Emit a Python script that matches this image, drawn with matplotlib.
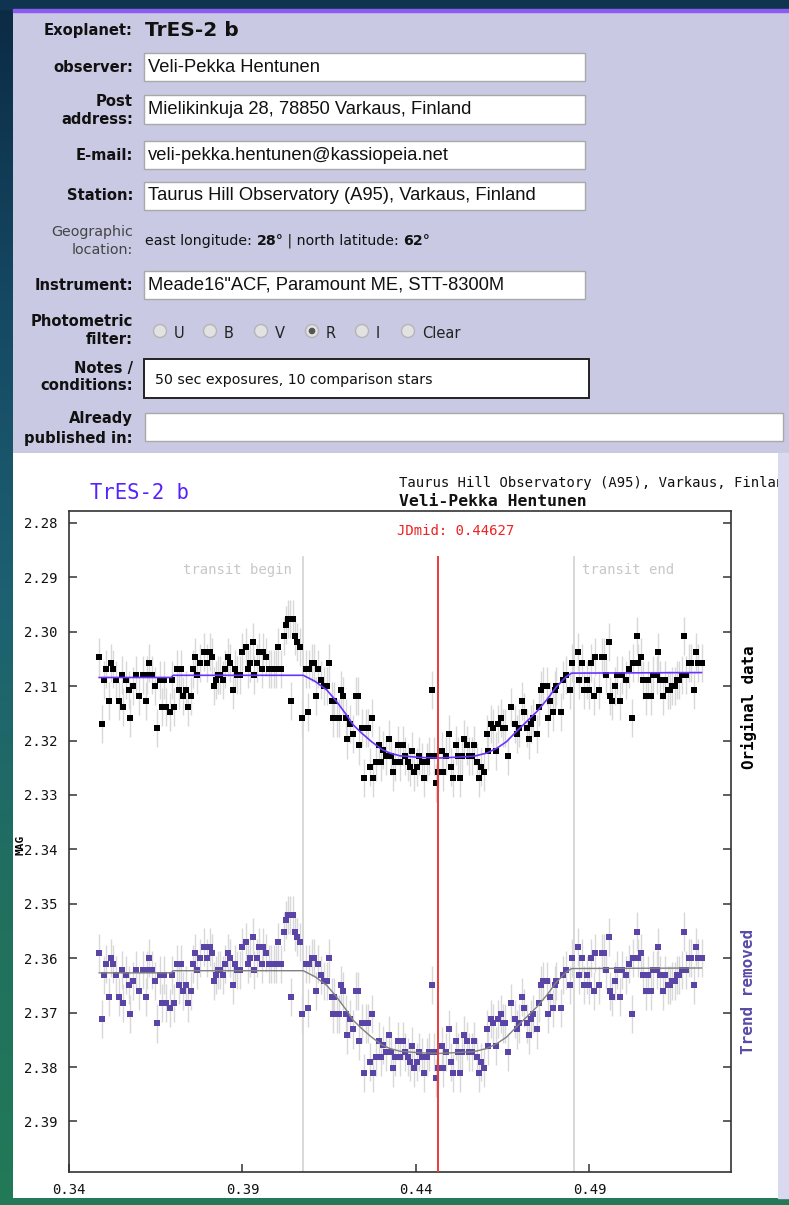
import numpy as np
import matplotlib
matplotlib.use("Agg")
from matplotlib import pyplot as plt
from matplotlib.patches import Rectangle, Circle
from matplotlib.colors import LinearSegmentedColormap

# light curve readings (JD fraction, magnitude), original data
jd = [
    0.3487, 0.3495, 0.3502, 0.3508, 0.3516, 0.3521, 0.3528, 0.3535, 0.3545, 0.3552,
    0.3557, 0.3563, 0.3573, 0.3577, 0.3584, 0.3594, 0.3602, 0.3612, 0.3622, 0.3626,
    0.3632, 0.3640, 0.3647, 0.3654, 0.3661, 0.3668, 0.3675, 0.3681, 0.3691, 0.3696,
    0.3704, 0.3710, 0.3717, 0.3724, 0.3730, 0.3736, 0.3742, 0.3752, 0.3758, 0.3762,
    0.3768, 0.3779, 0.3790, 0.3798, 0.3805, 0.3813, 0.3818, 0.3824, 0.3830, 0.3836,
    0.3844, 0.3850, 0.3858, 0.3864, 0.3872, 0.3878, 0.3883, 0.3892, 0.3900, 0.3910,
    0.3915, 0.3922, 0.3930, 0.3934, 0.3941, 0.3948, 0.3955, 0.3960, 0.3969, 0.3976,
    0.3983, 0.3990, 0.3997, 0.4003, 0.4011, 0.4019, 0.4024, 0.4031, 0.4038, 0.4041,
    0.4047, 0.4051, 0.4058, 0.4066, 0.4072, 0.4083, 0.4089, 0.4093, 0.4100, 0.4107,
    0.4112, 0.4119, 0.4127, 0.4134, 0.4143, 0.4150, 0.4158, 0.4162, 0.4165, 0.4171,
    0.4179, 0.4184, 0.4191, 0.4197, 0.4202, 0.4210, 0.4218, 0.4228, 0.4232, 0.4237,
    0.4244, 0.4251, 0.4257, 0.4263, 0.4267, 0.4272, 0.4277, 0.4285, 0.4294, 0.4299,
    0.4306, 0.4314, 0.4321, 0.4329, 0.4335, 0.4341, 0.4347, 0.4354, 0.4363, 0.4369,
    0.4377, 0.4383, 0.4389, 0.4395, 0.4402, 0.4409, 0.4416, 0.4424, 0.4431, 0.4439,
    0.4447, 0.4453, 0.4458, 0.4464, 0.4476, 0.4477, 0.4486, 0.4495, 0.4500, 0.4508,
    0.4514, 0.4520, 0.4527, 0.4532, 0.4539, 0.4546, 0.4553, 0.4561, 0.4567, 0.4575,
    0.4583, 0.4588, 0.4597, 0.4604, 0.4609, 0.4615, 0.4623, 0.4630, 0.4637, 0.4645,
    0.4652, 0.4658, 0.4665, 0.4675, 0.4685, 0.4692, 0.4698, 0.4705, 0.4711, 0.4719,
    0.4725, 0.4732, 0.4738, 0.4748, 0.4754, 0.4759, 0.4767, 0.4777, 0.4780, 0.4786,
    0.4794, 0.4800, 0.4805, 0.4817, 0.4823, 0.4832, 0.4844, 0.4849, 0.4868, 0.4870,
    0.4878, 0.4884, 0.4892, 0.4899, 0.4905, 0.4914, 0.4916, 0.4927, 0.4935, 0.4942,
    0.4947, 0.4955, 0.4959, 0.4965, 0.4974, 0.4980, 0.4988, 0.4993, 0.5004, 0.5015,
    0.5024, 0.5026, 0.5036, 0.5039, 0.5049, 0.5055, 0.5062, 0.5070, 0.5076, 0.5084,
    0.5096, 0.5099, 0.5103, 0.5112, 0.5119, 0.5125, 0.5132, 0.5139, 0.5146, 0.5151,
    0.5159, 0.5167, 0.5173, 0.5179, 0.5186, 0.5194, 0.5202, 0.5206, 0.5212, 0.5223,
]
mag_orig = [
    2.3047, 2.3169, 2.3088, 2.3068, 2.3128, 2.3057, 2.3068, 2.3088, 2.3128, 2.3079,
    2.3139, 2.3088, 2.3107, 2.3159, 2.3099, 2.3079, 2.3118, 2.3079, 2.3128, 2.3079,
    2.3057, 2.3079, 2.3099, 2.3177, 2.3088, 2.3139, 2.3088, 2.3139, 2.3148, 2.3088,
    2.3139, 2.3068, 2.3107, 2.3068, 2.3118, 2.3107, 2.3139, 2.3118, 2.3068, 2.3047,
    2.3079, 2.3057, 2.3037, 2.3057, 2.3037, 2.3047, 2.3099, 2.3088, 2.3079, 2.3079,
    2.3088, 2.3068, 2.3047, 2.3057, 2.3107, 2.3068, 2.3079, 2.3079, 2.3037, 2.3028,
    2.3068, 2.3057, 2.3018, 2.3079, 2.3057, 2.3037, 2.3068, 2.3037, 2.3047, 2.3068,
    2.3068, 2.3068, 2.3068, 2.3028, 2.3068, 2.3008, 2.2987, 2.2977, 2.2977, 2.3128,
    2.2977, 2.3008, 2.3018, 2.3028, 2.3159, 2.3068, 2.3148, 2.3068, 2.3057, 2.3057,
    2.3118, 2.3068, 2.3088, 2.3099, 2.3099, 2.3057, 2.3128, 2.3159, 2.3128, 2.3159,
    2.3159, 2.3107, 2.3118, 2.3159, 2.3198, 2.3169, 2.3188, 2.3118, 2.3118, 2.3209,
    2.3177, 2.3268, 2.3177, 2.3177, 2.3248, 2.3159, 2.3268, 2.3239, 2.3209, 2.3239,
    2.3217, 2.3229, 2.3198, 2.3229, 2.3258, 2.3239, 2.3209, 2.3239, 2.3209, 2.3229,
    2.3239, 2.3248, 2.3219, 2.3258, 2.3248, 2.3229, 2.3239, 2.3268, 2.3239, 2.3229,
    2.3107, 2.3229, 2.3278, 2.3258, 2.3219, 2.3258, 2.3229, 2.3188, 2.3248, 2.3268,
    2.3209, 2.3229, 2.3268, 2.3229, 2.3198, 2.3209, 2.3229, 2.3229, 2.3209, 2.3239,
    2.3268, 2.3248, 2.3258, 2.3188, 2.3219, 2.3169, 2.3177, 2.3219, 2.3169, 2.3159,
    2.3177, 2.3177, 2.3229, 2.3139, 2.3169, 2.3188, 2.3177, 2.3128, 2.3148, 2.3177,
    2.3198, 2.3169, 2.3159, 2.3188, 2.3139, 2.3107, 2.3099, 2.3099, 2.3159, 2.3128,
    2.3148, 2.3107, 2.3099, 2.3148, 2.3088, 2.3079, 2.3107, 2.3057, 2.3037, 2.3088,
    2.3057, 2.3107, 2.3088, 2.3107, 2.3057, 2.3118, 2.3047, 2.3107, 2.3047, 2.3047,
    2.3079, 2.3018, 2.3118, 2.3128, 2.3099, 2.3079, 2.3128, 2.3079, 2.3088, 2.3068,
    2.3159, 2.3057, 2.3008, 2.3057, 2.3047, 2.3088, 2.3118, 2.3088, 2.3118, 2.3079,
    2.3079, 2.3037, 2.3088, 2.3118, 2.3088, 2.3107, 2.3107, 2.3099, 2.3099, 2.3088,
    2.3088, 2.3079, 2.3008, 2.3079, 2.3057, 2.3057, 2.3107, 2.3037, 2.3057, 2.3057,
]
mag_err = 0.0035
trend_offset = 0.0543   # vertical shift of the "trend removed" copy

# fitted transit model (knots)
model_jd = [0.3487, 0.3695, 0.3700, 0.4075, 0.4109, 0.4143, 0.4171, 0.4200, 0.4219,
            0.4243, 0.4272, 0.4301, 0.4325, 0.4354, 0.4412, 0.4469, 0.4565, 0.4604,
            0.4633, 0.4661, 0.4690, 0.4719, 0.4748, 0.4777, 0.4805, 0.4834, 0.4849,
            0.5223]
model_mag = [2.3084, 2.3084, 2.3080, 2.3080, 2.3091, 2.3107, 2.3128, 2.3153, 2.3171,
             2.3186, 2.3202, 2.3216, 2.3223, 2.3228, 2.3231, 2.3232, 2.3229, 2.3223,
             2.3214, 2.3202, 2.3183, 2.3165, 2.3147, 2.3125, 2.3101, 2.3082, 2.3076,
             2.3075]

jd_mid = 0.44627
transit_begin = 0.4073
transit_end = 0.4856
x_ticks = [0.34, 0.39, 0.44, 0.49]
y_ticks = [2.28, 2.29, 2.30, 2.31, 2.32, 2.33, 2.34, 2.35, 2.36, 2.37, 2.38, 2.39]

W, H = 789, 1205
fig = plt.figure(figsize=(W / 100, H / 100), dpi=100)
fig.patch.set_facecolor('#c9c9e3')

# ---- page background and form (pixel coordinates) ----
bg = fig.add_axes([0, 0, 1, 1])
bg.set_xlim(0, W)
bg.set_ylim(H, 0)
bg.axis('off')
grad = LinearSegmentedColormap.from_list('edge', ['#0c2a44', '#154863', '#1d6172', '#21705f', '#227a58'])
bg.imshow(np.linspace(0, 1, 256).reshape(-1, 1), cmap=grad, aspect='auto',
          extent=[0, 13, H, 0], zorder=1)
bg.add_patch(Rectangle((0, 0), W, 9, color='#0e3450', zorder=1))
bg.add_patch(Rectangle((13, 9), W, 2.5, color='#8a5cf0', zorder=2))
bg.add_patch(Rectangle((13, 1198), W, 7, color='#227a58', zorder=1))
bg.add_patch(Rectangle((778, 453), 11, 745, color='#d9d9ef', zorder=1))

lab = dict(family='DejaVu Sans', fontweight='bold', fontsize=10.6, ha='right', va='center', color='#111111')
inp = dict(family='Liberation Sans', fontsize=13.2, ha='left', va='center', color='#111111')
small = dict(family='DejaVu Sans', fontsize=10.2, ha='left', va='center', color='#111111')
grey = dict(family='DejaVu Sans', fontsize=10.3, ha='right', va='center', color='#444444')


def box(x0, y0, x1, y1, edge='#a9a9a9', lw=1.0):
    bg.add_patch(Rectangle((x0, y0), x1 - x0, y1 - y0, facecolor='white', edgecolor=edge, lw=lw, zorder=3))


bg.text(133, 30, 'Exoplanet:', **lab)
bg.text(145, 30, 'TrES-2 b', family='DejaVu Sans', fontweight='bold', fontsize=14.5, va='center', color='#111111')

rows = [('observer:', 67, 'Veli-Pekka Hentunen'),
        ('E-mail:', 155, 'veli-pekka.hentunen@kassiopeia.net'),
        ('Station:', 196, 'Taurus Hill Observatory (A95), Varkaus, Finland'),
        ('Instrument:', 285, 'Meade16"ACF, Paramount ME, STT-8300M')]
for name, yc, val in rows:
    bg.text(133, yc, name, **lab)
    box(144, yc - 14, 585, yc + 14)
    bg.text(148, yc, val, zorder=4, **inp)

bg.text(133, 101, 'Post', **lab)
bg.text(133, 120, 'address:', **lab)
box(144, 95, 585, 124)
bg.text(148, 110, 'Mielikinkuja 28, 78850 Varkaus, Finland', zorder=4, **inp)

bg.text(133, 232, 'Geographic', **grey)
bg.text(133, 250, 'location:', **grey)

# location line: normal and bold pieces placed one after another
renderer = fig.canvas.get_renderer()
xpos = 145
for piece, weight in [('east longitude: ', 'normal'), ('28°', 'bold'),
                      (' | north latitude: ', 'normal'), ('62°', 'bold')]:
    t = bg.text(xpos, 241, piece, fontweight=weight, **small)
    ext = t.get_window_extent(renderer)
    xpos += ext.width * W / fig.bbox.width

bg.text(133, 321, 'Photometric', **lab)
bg.text(133, 339, 'filter:', **lab)
radio_x = [160, 210, 261, 312, 362, 408]
for rx, name in zip(radio_x, ['U', 'B', 'V', 'R', 'I', 'Clear']):
    bg.add_patch(Circle((rx, 331), 6.5, facecolor='#e2e2e2', edgecolor='#b5b5b5', lw=1, zorder=3))
    if name == 'R':
        bg.add_patch(Circle((rx, 331), 2.6, color='#555555', zorder=4))
    bg.text(rx + 14, 333, name, family='DejaVu Sans', fontsize=10.5, va='center', color='#222222')

bg.text(133, 368, 'Notes /', **lab)
bg.text(133, 386, 'conditions:', **lab)
box(144, 359, 589, 398, edge='#222222', lw=1.4)
bg.text(155, 380, '50 sec exposures, 10 comparison stars', zorder=4, **small)

bg.text(133, 419, 'Already', **lab)
bg.text(133, 438, 'published in:', **lab)
box(145, 413, 783, 441)

# ---- white plot panel ----
px0, px1, py0, py1 = 13, 778, 453, 1198
hdr = fig.add_axes([px0 / W, 1 - py1 / H, (px1 - px0) / W, (py1 - py0) / H])
hdr.set_xlim(px0, px1)
hdr.set_ylim(py1, py0)
hdr.set_facecolor('white')
hdr.set_xticks([])
hdr.set_yticks([])
for s in hdr.spines.values():
    s.set_visible(False)
mono = 'DejaVu Sans Mono'
hdr.text(90, 493, 'TrES-2 b', family=mono, fontsize=14.8, color='#5522ff', va='center')
hdr.text(399, 483, 'Taurus Hill Observatory (A95), Varkaus, Finland', family=mono, fontsize=10,
         color='#111111', va='center', clip_on=True)
hdr.text(399, 501, 'Veli-Pekka Hentunen', family=mono, fontsize=11.8, fontweight='bold',
         color='#111111', va='center', clip_on=True)
hdr.text(20, 845, 'MAG', family=mono, fontsize=8, fontweight='bold', rotation=90, ha='center', va='center')

# ---- light curve axes ----
ax = fig.add_axes([69 / W, 1 - 1172 / H, 662 / W, 661 / H])
ax.set_facecolor('white')
ax.set_xlim(0.34, 0.5308)
ax.set_ylim(2.3993, 2.2778)

mag_trend = [m + trend_offset for m in mag_orig]
model_trend = [m + trend_offset for m in model_mag]

top_line = 2.2862
for xv in (transit_begin, transit_end):
    ax.plot([xv, xv], [top_line, 2.3993], color='#d2d2d2', lw=1.2, zorder=1)
ax.plot([jd_mid, jd_mid], [top_line, 2.3993], color='#ee3a3a', lw=1.4, zorder=5)

ax.errorbar(jd, mag_orig, yerr=mag_err, fmt='none', ecolor='#d8d8d8', elinewidth=1.0, zorder=2)
ax.errorbar(jd, mag_trend, yerr=mag_err, fmt='none', ecolor='#d8d8d8', elinewidth=1.0, zorder=2)
ax.plot(jd, mag_orig, 's', ms=4.6, color='black', mew=0, zorder=3)
ax.plot(jd, mag_trend, 's', ms=4.6, color='#5a44a6', mew=0, zorder=3)
ax.plot(model_jd, model_mag, color='#6a33ff', lw=1.2, zorder=4)
ax.plot(model_jd, model_trend, color='#808080', lw=1.0, zorder=4)

ax.text(transit_begin - 0.003, 2.2886, 'transit begin', family=mono, fontsize=10, color='#c8c8c8',
        ha='right', va='center')
ax.text(transit_end + 0.0023, 2.2886, 'transit end', family=mono, fontsize=10, color='#c8c8c8',
        ha='left', va='center')
ax.text(0.4345, 2.2815, 'JDmid: %.5f' % jd_mid, family=mono, fontsize=10, color='#ee2222',
        ha='left', va='center')
ax.text(1.027, 0.7035, 'Original data', transform=ax.transAxes, family=mono, fontsize=11.4,
        fontweight='bold', rotation=90, ha='center', va='center', color='black')
ax.text(1.027, 0.2738, 'Trend removed', transform=ax.transAxes, family=mono, fontsize=11.5,
        fontweight='bold', rotation=90, ha='center', va='center', color='#5a4aa6')

ax.set_xticks(x_ticks)
ax.set_xticklabels(['%.2f' % v for v in x_ticks])
ax.set_yticks(y_ticks)
ax.set_yticklabels(['%.2f' % v for v in y_ticks])
ax.tick_params(axis='both', direction='in', length=6, width=1.1, color='#333333',
               labelsize=10, pad=8, labelcolor='#111111')
ax.tick_params(axis='y', right=True, left=True)
ax.tick_params(axis='x', top=False)
for lbl in ax.get_xticklabels() + ax.get_yticklabels():
    lbl.set_family(mono)
for s in ax.spines.values():
    s.set_color('#333333')
    s.set_linewidth(1.2)

fig.savefig('out.png', dpi=100)
